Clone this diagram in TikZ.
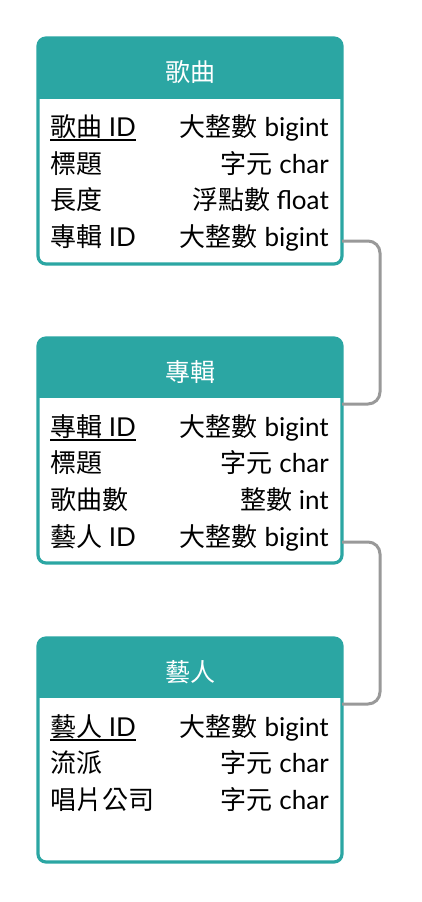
\documentclass[tikz,border=0pt]{standalone}
\usepackage{fontspec}
\setmainfont{Lato}
\newfontfamily\cjkfont{Noto Sans CJK TC}
\newcommand\zh[1]{{\cjkfont #1}}
\definecolor{tealc}{RGB}{43,166,163}
\definecolor{connc}{RGB}{153,153,153}
\begin{document}
\begin{tikzpicture}[x=1pt,y=-1pt,
  tbl/.style={rectangle, fill=white, outer sep=0pt, inner sep=0pt, minimum width=304pt, rounded corners=8pt},
  border/.style={draw=tealc, line width=3.2pt, rounded corners=8pt},
  hdr/.style={text=white, font=\fontsize{25}{25}\selectfont\cjkfont, anchor=base, inner sep=0pt},
  fl/.style={anchor=base west, inner sep=0pt, font=\fontsize{26}{26}\selectfont},
  fr/.style={anchor=base east, inner sep=0pt, font=\fontsize{26}{26}\selectfont},
  pk/.style={line width=1.4pt},
  conn/.style={draw=connc, line width=3pt, rounded corners=12pt}]
\useasboundingbox (0,0) rectangle (421,902);
\fill[white] (0,0) rectangle (421,902);

% ---------- table 1: 歌曲 ----------
\node[tbl, minimum height=226pt] (song) at (190,151) {};
\begin{scope}
  \clip[rounded corners=8pt] (song.north west) rectangle (song.south east);
  \fill[tealc] (song.north west) rectangle (342,99);
\end{scope}
\draw[border] (song.north west) rectangle (song.south east);
\node[hdr] (songT) at (190,81) {歌曲};
\node[fl] (s1l) at (50,136) {\zh{歌曲} ID};
\draw[pk] ([yshift=-4pt]s1l.base west) -- ([yshift=-4pt]s1l.base east);
\node[fr] (s1r) at (329,136) {\zh{大整數} bigint};
\node[fl] (s2l) at (50,173) {\zh{標題}};
\node[fr] (s2r) at (329,173) {\zh{字元} char};
\node[fl] (s3l) at (50,209) {\zh{長度}};
\node[fr] (s3r) at (329,209) {\zh{浮點數} float};
\node[fl] (s4l) at (50,246) {\zh{專輯} ID};
\node[fr] (s4r) at (329,246) {\zh{大整數} bigint};

% ---------- table 2: 專輯 ----------
\node[tbl, minimum height=225pt] (album) at (190,450.5) {};
\begin{scope}
  \clip[rounded corners=8pt] (album.north west) rectangle (album.south east);
  \fill[tealc] (album.north west) rectangle (342,398);
\end{scope}
\draw[border] (album.north west) rectangle (album.south east);
\node[hdr] (albumT) at (190,381) {專輯};
\node[fl] (a1l) at (50,436) {\zh{專輯} ID};
\draw[pk] ([yshift=-4pt]a1l.base west) -- ([yshift=-4pt]a1l.base east);
\node[fr] (a1r) at (329,436) {\zh{大整數} bigint};
\node[fl] (a2l) at (50,472) {\zh{標題}};
\node[fr] (a2r) at (329,472) {\zh{字元} char};
\node[fl] (a3l) at (50,509) {\zh{歌曲數}};
\node[fr] (a3r) at (329,509) {\zh{整數} int};
\node[fl] (a4l) at (50,546) {\zh{藝人} ID};
\node[fr] (a4r) at (329,546) {\zh{大整數} bigint};

% ---------- table 3: 藝人 ----------
\node[tbl, minimum height=224pt] (artist) at (190,750) {};
\begin{scope}
  \clip[rounded corners=8pt] (artist.north west) rectangle (artist.south east);
  \fill[tealc] (artist.north west) rectangle (342,698);
\end{scope}
\draw[border] (artist.north west) rectangle (artist.south east);
\node[hdr] (artistT) at (190,681) {藝人};
\node[fl] (r1l) at (50,736) {\zh{藝人} ID};
\draw[pk] ([yshift=-4pt]r1l.base west) -- ([yshift=-4pt]r1l.base east);
\node[fr] (r1r) at (329,736) {\zh{大整數} bigint};
\node[fl] (r2l) at (50,772) {\zh{流派}};
\node[fr] (r2r) at (329,772) {\zh{字元} char};
\node[fl] (r3l) at (50,809) {\zh{唱片公司}};
\node[fr] (r3r) at (329,809) {\zh{字元} char};

% ---------- connectors ----------
\coordinate (c1a) at (song.east |- 0,241);
\coordinate (c1b) at (album.east |- 0,404);
\coordinate (c2a) at (album.east |- 0,542);
\coordinate (c2b) at (artist.east |- 0,704);
\draw[conn] (c1a) -- (380,241) -- (380,404) -- (c1b);
\draw[conn] (c2a) -- (380,542) -- (380,704) -- (c2b);
\end{tikzpicture}
\end{document}
